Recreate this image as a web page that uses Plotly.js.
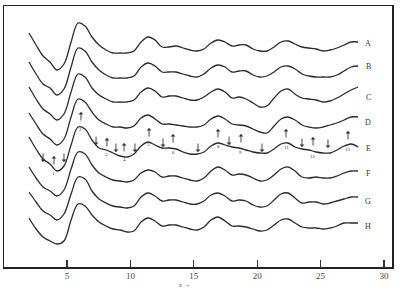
<!DOCTYPE html>
<html>
<head>
<meta charset="utf-8">
<script src="https://cdn.plot.ly/plotly-3.0.1.min.js"></script>
<style>html,body{margin:0;padding:0;background:#fff}#chart{width:401px;height:295px}</style>
</head>
<body>
<div id="chart"></div>
<script>
// scattering variable s (shared by all curves)
const s = [2.00,2.56,3.11,3.66,4.21,4.76,5.32,5.87,6.42,6.97,7.52,8.08,8.63,9.18,9.73,10.28,10.84,11.39,11.94,12.49,13.04,13.60,14.15,14.70,15.25,15.80,16.36,16.91,17.46,18.01,18.56,19.12,19.67,20.22,20.77,21.33,21.88,22.43,22.98,23.53,24.09,24.64,25.19,25.74,26.29,26.85,27.40,27.95];

// stacked intensity curves (arbitrary units, curves displaced vertically)
const curveA = [234,222,211,205,197,203,225,244,241,230,222,217,214,214,214,216,225,230,227,220,220,221,219,217,216,218,224,227,225,221,222,222,218,216,216,220,225,226,223,220,219,218,216,217,219,222,225,225];
const curveB = [205,193,183,179,172,178,200,219,216,205,197,192,189,189,189,191,200,204,201,195,195,195,193,191,190,193,199,202,200,195,196,196,192,190,191,195,200,201,198,193,191,190,190,190,192,196,200,201];
const curveC = [180,168,158,153,147,153,175,193,190,179,172,168,165,165,165,167,175,179,176,170,171,171,169,167,167,170,175,178,175,169,170,168,164,160,161,169,176,178,173,169,168,167,165,166,169,173,177,180];
const curveD = [154,143,133,128,122,128,150,168,165,155,147,143,140,140,139,141,149,152,148,143,143,142,141,140,140,142,148,151,148,143,142,141,138,135,134,141,148,150,147,142,140,139,140,142,144,147,150,150];
const curveE = [130,118,108,103,96,101,122,140,138,127,119,117,114,111,110,113,121,125,122,119,119,118,115,113,113,115,121,124,122,120,119,117,115,114,114,118,123,124,120,118,117,115,114,114,117,121,123,120];
const curveF = [100,89,80,76,71,77,98,115,113,102,94,90,87,86,85,87,94,97,95,90,91,91,89,87,86,89,96,100,97,92,93,92,89,86,87,92,98,100,96,90,89,90,89,89,91,94,96,96];
const curveG = [75,65,56,52,47,53,73,90,88,76,68,64,61,60,59,61,70,74,71,66,67,67,65,63,63,66,72,74,71,66,67,66,62,60,61,67,73,74,69,64,65,65,63,64,66,68,70,70];
const curveH = [49,38,30,26,23,26,47,63,61,52,45,41,38,37,35,36,45,49,46,41,42,42,40,38,37,40,47,50,46,41,41,40,38,36,37,42,47,48,44,40,39,39,38,39,41,44,44,44];

const curveNames = ['A','B','C','D','E','F','G','H'];
const curveLabelY = [224,201,170,145,119,94,66,41];

// arrows on curve E: position, tip value, direction (+1 up, -1 down)
const arrowS   = [3.11, 3.97, 4.76, 6.10, 7.29, 8.15, 8.86, 9.50, 10.36, 11.47, 12.57, 13.36, 15.33, 16.91, 17.78, 18.72, 20.38, 22.27, 23.53, 24.40, 25.58, 27.16];
const arrowTip = [105, 111, 105, 155, 122, 129, 115, 124, 115, 139, 120, 133, 115, 138, 122, 133, 115, 138, 120, 130, 119, 136];
const arrowDir = [-1, 1, -1, 1, -1, 1, -1, 1, -1, 1, -1, 1, -1, 1, -1, 1, -1, 1, -1, 1, -1, 1];

// peak numbers on curve E
const peakNum = ['1','2','3','4','5','6','8','9','11','12','13'];
const peakS   = [3.97, 6.03, 8.15, 9.50, 11.39, 13.36, 16.91, 18.72, 22.27, 24.40, 27.16];
const peakY   = [94, 138, 113, 108, 123, 115, 121, 115, 120, 111, 118];

const xTicks = [5, 10, 15, 20, 25, 30];

const curves = [curveA, curveB, curveC, curveD, curveE, curveF, curveG, curveH];
const traces = curves.map((c, i) => ({
  x: s, y: c, type: 'scatter', mode: 'lines', name: curveNames[i],
  line: {color: '#2a2a2a', width: 1.3, shape: 'spline', smoothing: 1},
  hoverinfo: 'skip'
}));

const annotations = [];
curveNames.forEach((n, i) => annotations.push({
  x: 28.74, y: curveLabelY[i], xref: 'x', yref: 'y', text: n, showarrow: false,
  font: {family: 'Liberation Serif', size: 8, color: '#333'}
}));
arrowS.forEach((x, i) => annotations.push({
  x: x, y: arrowTip[i], xref: 'x', yref: 'y', axref: 'x', ayref: 'y',
  ax: x, ay: arrowTip[i] - arrowDir[i] * 10, text: '', showarrow: true,
  arrowhead: 1, arrowsize: 0.9, arrowwidth: 0.9, arrowcolor: '#333', standoff: 0, startstandoff: 0
}));
peakNum.forEach((t, i) => annotations.push({
  x: peakS[i], y: peakY[i], xref: 'x', yref: 'y', text: t, showarrow: false,
  font: {family: 'Liberation Serif', size: 5, color: '#333'}
}));
annotations.push({
  x: 14.3, y: -0.088, xref: 'x', yref: 'paper', text: '<i>s</i> →', showarrow: false,
  borderpad: 0, font: {family: 'Liberation Serif', size: 7, color: '#555'}
});

const layout = {
  width: 401, height: 295,
  margin: {l: 4, r: 9, t: 6, b: 28, pad: 0},
  paper_bgcolor: '#fff', plot_bgcolor: '#fff',
  showlegend: false,
  xaxis: {
    range: [0.03, 30.63], showgrid: false, zeroline: false,
    showline: true, mirror: true, linecolor: '#222', linewidth: 1.5,
    tickvals: xTicks, ticktext: xTicks.map(String),
    ticks: 'inside', ticklen: 7, tickwidth: 1.2, tickcolor: '#333',
    tickfont: {family: 'Liberation Serif', size: 9, color: '#444'}
  },
  yaxis: {
    range: [0, 261], showgrid: false, zeroline: false,
    showline: true, mirror: true, linecolor: '#222', linewidth: 1.5,
    showticklabels: false, ticks: ''
  },
  annotations: annotations
};

Plotly.newPlot('chart', traces, layout, {staticPlot: true, displayModeBar: false});
</script>
</body>
</html>
